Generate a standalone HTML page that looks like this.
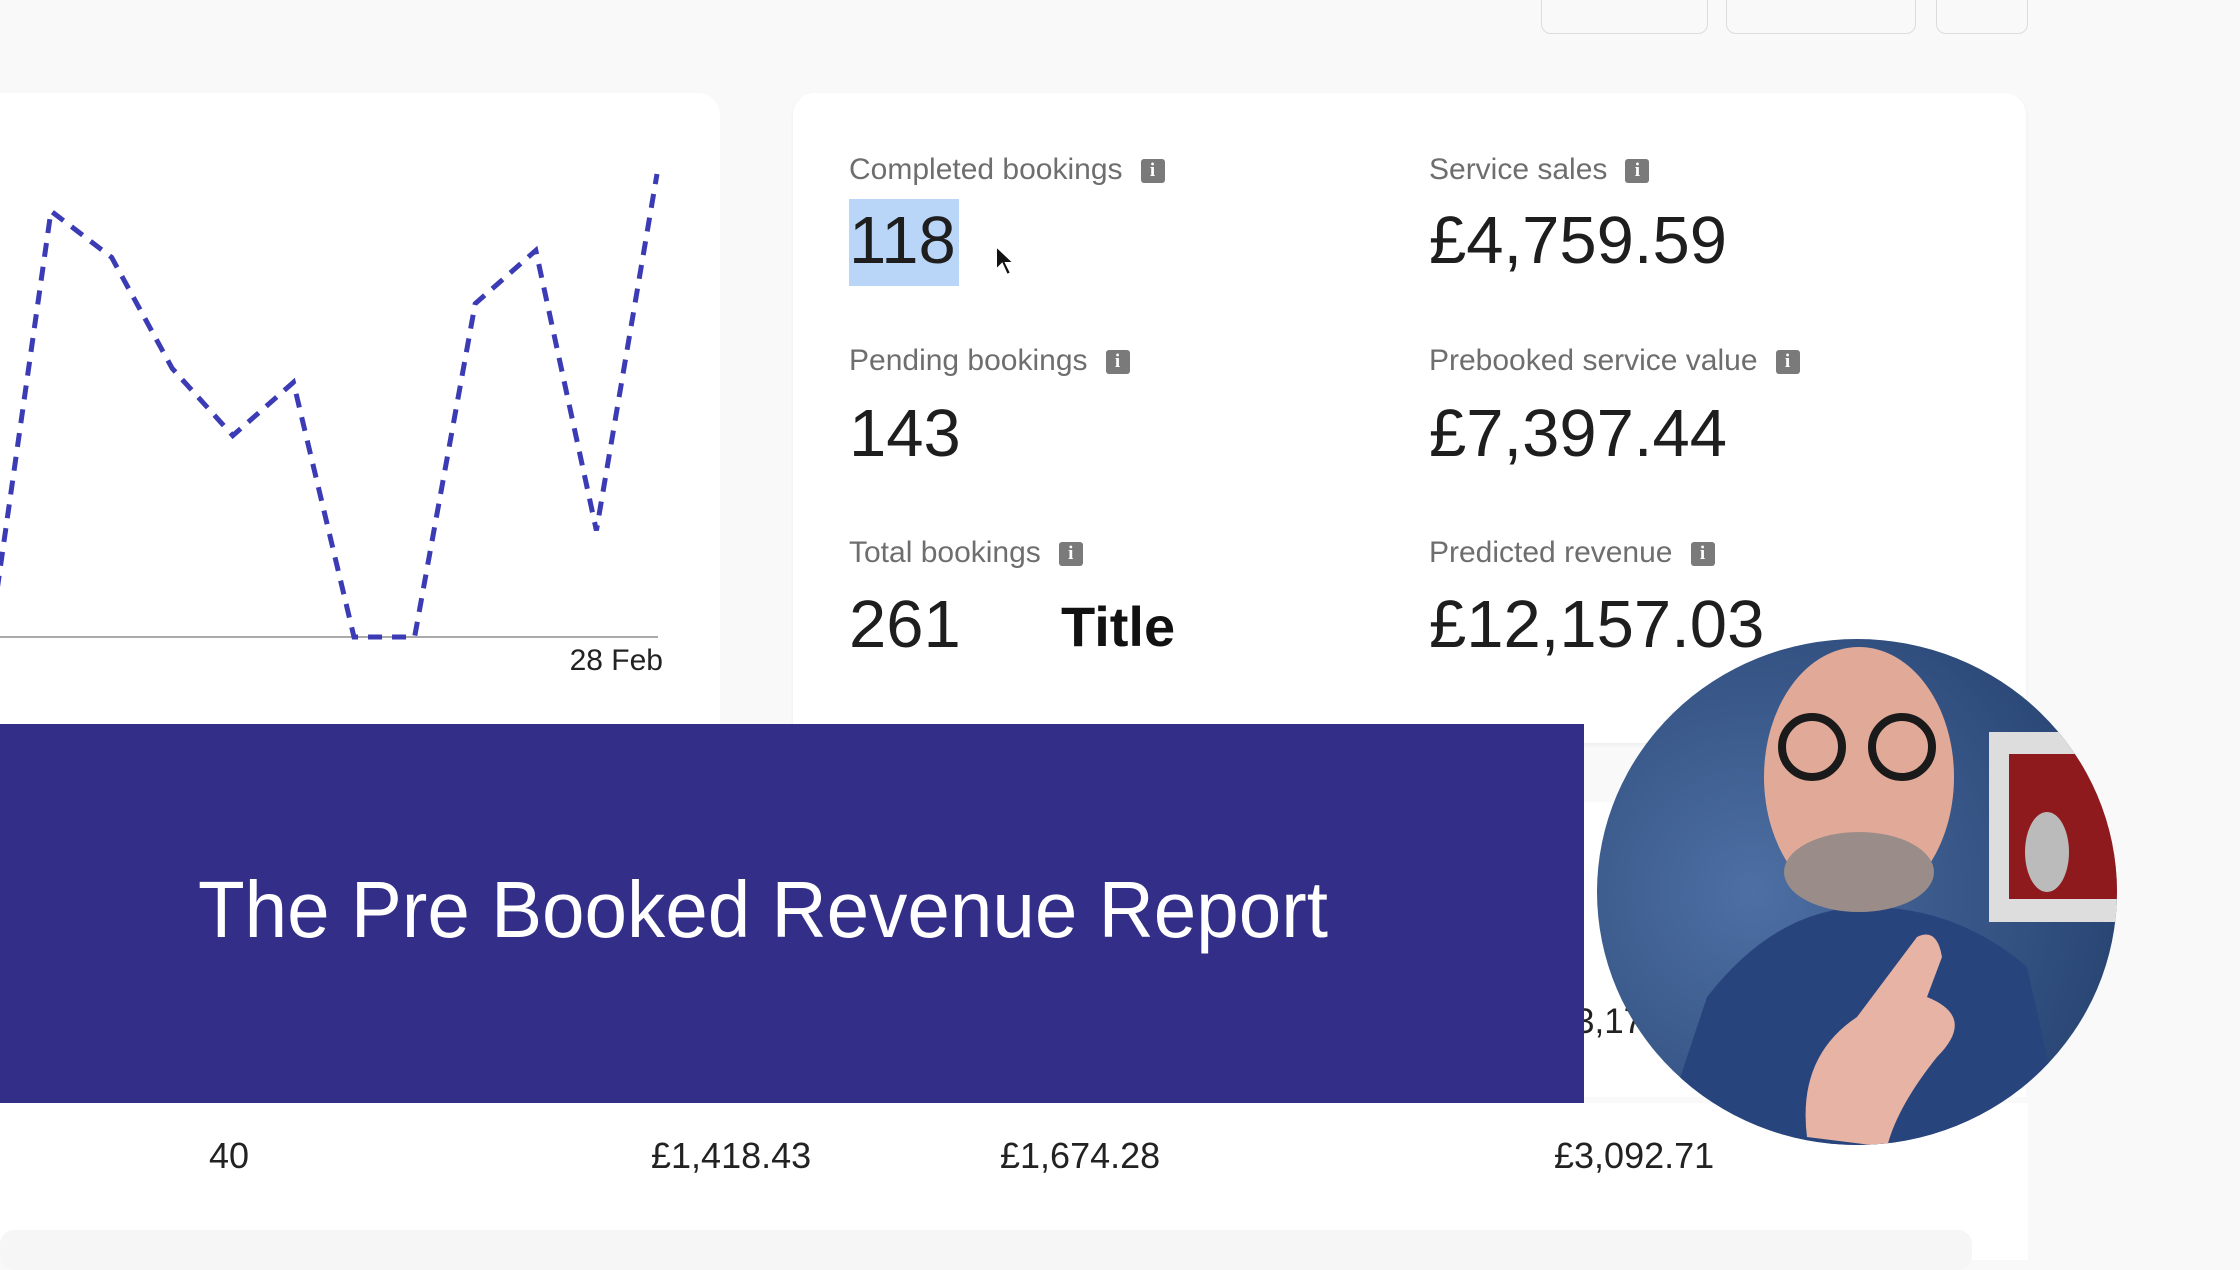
<!DOCTYPE html>
<html><head><meta charset="utf-8"><style>
body{margin:0;width:2240px;height:1260px;overflow:hidden;background:#f9f9f9;font-family:"Liberation Sans",sans-serif;position:relative}
.abs{position:absolute}
.btn{position:absolute;top:-20px;height:52px;border:1px solid #dcdcdc;border-radius:10px;background:#f9f9f9}
.lbl{position:absolute;font-size:30px;color:#6e6e6e;white-space:nowrap}
.info{display:inline-block;width:24px;height:24px;background:#7a7a7a;border-radius:3px;color:#fff;font-size:19px;font-weight:bold;text-align:center;line-height:24px;margin-left:18px;vertical-align:3px;font-family:"Liberation Serif",serif}
.val{position:absolute;font-size:67px;color:#1e1e1e;white-space:nowrap}
.cell{position:absolute;top:1135px;font-size:36px;color:#222}
</style></head><body>
<div class="btn" style="left:1541px;width:165px"></div>
<div class="btn" style="left:1726px;width:188px"></div>
<div class="btn" style="left:1936px;width:90px"></div>

<div class="abs" style="left:-30px;top:93px;width:750px;height:700px;background:#fff;border-radius:22px"></div>
<div class="abs" style="left:793px;top:93px;width:1233px;height:650px;background:#fff;border-radius:22px;box-shadow:0 2px 4px rgba(0,0,0,0.05)"></div>
<div class="abs" style="left:1560px;top:802px;width:466px;height:295px;background:#fff"></div>
<div class="abs" style="left:0;top:1103px;width:2028px;height:157px;background:#fff"></div>
<div class="abs" style="left:0;top:1230px;width:1972px;height:40px;background:#f6f6f6;border-radius:14px"></div>

<svg class="abs" style="left:0;top:0" width="760" height="720">
<g id="plot"></g>
<text x="663" y="670" text-anchor="end" font-size="30" fill="#222" font-family="Liberation Sans">28 Feb</text>
</svg>
<script>
const dayIndex=[-1,0,1,2,3,4,5,6,7,8,9,10];
const bookings=[0,18.4,16.4,11.6,8.7,11,0,0,14.4,16.7,4.6,20];
const yMax=20;
const xAt=i=>51+i*60.6;
const yAt=v=>637-v*(637-174)/yMax;
const g=document.getElementById('plot');
const ns='http://www.w3.org/2000/svg';
const axis=document.createElementNS(ns,'line');
axis.setAttribute('x1',0);axis.setAttribute('x2',658);axis.setAttribute('y1',637);axis.setAttribute('y2',637);
axis.setAttribute('stroke','#aaa');axis.setAttribute('stroke-width','2');


g.appendChild(axis);
const pl=document.createElementNS(ns,'polyline');
pl.setAttribute('points',bookings.map((v,i)=>xAt(dayIndex[i])+','+yAt(v)).join(' '));
pl.setAttribute('fill','none');pl.setAttribute('stroke','#3b3bb5');pl.setAttribute('stroke-width','5');pl.setAttribute('stroke-dasharray','14 10');


g.appendChild(pl);
</script>

<div class="abs" style="left:849px;top:199px;width:110px;height:87px;background:#b9d6f8"></div>
<div class="lbl" style="left:849px;top:153px">Completed bookings<span class="info">i</span></div>
<div class="val" style="left:849px;top:202px">118</div>
<div class="lbl" style="left:849px;top:344px">Pending bookings<span class="info">i</span></div>
<div class="val" style="left:849px;top:395px">143</div>
<div class="lbl" style="left:849px;top:536px">Total bookings<span class="info">i</span></div>
<div class="val" style="left:849px;top:586px">261</div>
<div class="abs" style="left:1061px;top:594px;font-size:56px;font-weight:bold;color:#111">Title</div>
<div class="lbl" style="left:1429px;top:153px">Service sales<span class="info">i</span></div>
<div class="val" style="left:1429px;top:202px">£4,759.59</div>
<div class="lbl" style="left:1429px;top:344px">Prebooked service value<span class="info">i</span></div>
<div class="val" style="left:1429px;top:395px">£7,397.44</div>
<div class="lbl" style="left:1429px;top:536px">Predicted revenue<span class="info">i</span></div>
<div class="val" style="left:1429px;top:586px">£12,157.03</div>
<svg class="abs" style="left:994px;top:244px" width="24" height="34"><path d="M2 2 L2 26 L8 20 L13 31 L17 29 L12 19 L20 19 Z" fill="#111" stroke="#fff" stroke-width="2"/></svg>

<div class="abs" style="left:1575px;top:1002px;font-size:35px;color:#222">3,17</div>
<div class="cell" style="left:209px">40</div>
<div class="cell" style="left:651px">£1,418.43</div>
<div class="cell" style="left:1000px">£1,674.28</div>
<div class="cell" style="left:1554px">£3,092.71</div>

<svg class="abs" style="left:0;top:724px" width="1584" height="379">
<rect width="1584" height="379" fill="#332e87"/>
<text x="198" y="213" font-size="80" fill="#fff" font-family="Liberation Sans" textLength="1130" lengthAdjust="spacingAndGlyphs">The Pre Booked Revenue Report</text>
</svg>

<svg class="abs" style="left:1597px;top:637px" width="520" height="510">
<defs><clipPath id="c"><ellipse cx="260" cy="255" rx="260" ry="253"/></clipPath>
<radialGradient id="bg" cx="0.3" cy="0.5" r="0.8"><stop offset="0" stop-color="#4d6fa3"/><stop offset="1" stop-color="#24406e"/></radialGradient></defs>
<g clip-path="url(#c)">
<rect width="520" height="510" fill="url(#bg)"/>
<rect x="392" y="95" width="140" height="190" fill="#ddd"/>
<rect x="412" y="117" width="110" height="145" fill="#8e1a1e"/>
<ellipse cx="450" cy="215" rx="22" ry="40" fill="#bbb"/>
<path d="M60 510 L110 360 Q180 270 270 270 Q360 270 430 330 L470 510 Z" fill="#28447c"/>
<ellipse cx="262" cy="140" rx="95" ry="130" fill="#e1aa98"/>
<ellipse cx="262" cy="235" rx="75" ry="40" fill="#9a8c88"/>
<circle cx="215" cy="110" r="30" fill="none" stroke="#1a1a1a" stroke-width="8"/>
<circle cx="305" cy="110" r="30" fill="none" stroke="#1a1a1a" stroke-width="8"/>
<path d="M210 500 Q200 420 260 380 L320 300 Q340 290 345 320 L330 360 Q380 380 340 420 Q300 470 290 510 Z" fill="#e6b3a4"/>
</g></svg>
</body></html>
